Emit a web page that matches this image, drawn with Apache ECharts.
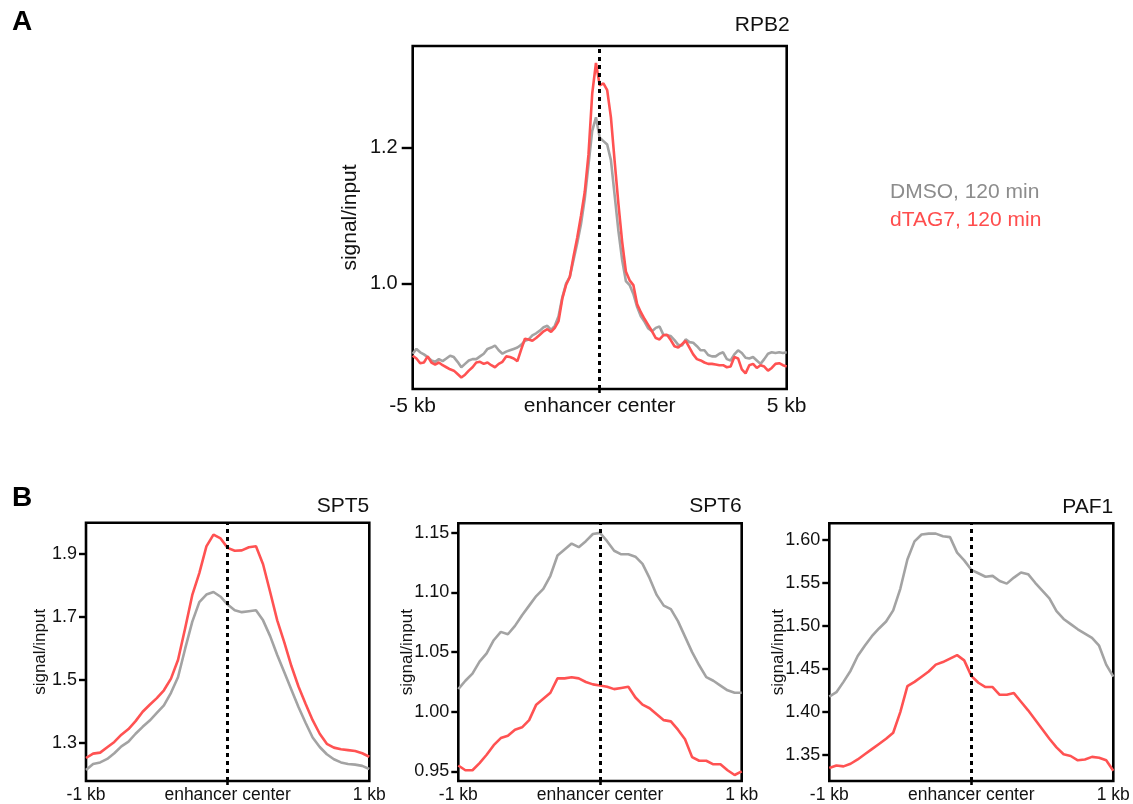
<!DOCTYPE html>
<html>
<head>
<meta charset="utf-8">
<title>Enhancer profiles</title>
<script src="https://cdn.jsdelivr.net/npm/echarts@6/dist/echarts.min.js"></script>
<style>
  html, body { margin: 0; padding: 0; background: #fff; }
  #chart { width: 1133px; height: 804px; }
</style>
</head>
<body>
<div id="chart"></div>
<script>
// ---- Panel A: RPB2, ±5 kb around enhancer center, 0.1 kb bins ----
const rpb2Pos = [];
for (let i = 0; i <= 100; i++) rpb2Pos.push(Math.round((-5 + i * 0.1) * 10) / 10);

const rpb2Dmso = [
  0.897, 0.904, 0.899, 0.896, 0.892, 0.887, 0.885, 0.889, 0.886, 0.890,
  0.894, 0.892, 0.885, 0.877, 0.882, 0.887, 0.889, 0.889, 0.893, 0.897,
  0.904, 0.906, 0.909, 0.902, 0.897, 0.900, 0.902, 0.904, 0.906, 0.910,
  0.916, 0.918, 0.924, 0.927, 0.931, 0.936, 0.938, 0.932, 0.938, 0.952,
  0.980, 1.000, 1.010, 1.035, 1.060, 1.088, 1.125, 1.175, 1.225, 1.245,
  1.215,
  1.210, 1.205, 1.182, 1.130, 1.078, 1.035, 1.004, 0.998, 0.985, 0.966,
  0.952, 0.944, 0.934, 0.930, 0.935, 0.937, 0.925, 0.924, 0.923, 0.917,
  0.910, 0.909, 0.918, 0.914, 0.913, 0.908, 0.902, 0.902, 0.895, 0.893,
  0.893, 0.897, 0.899, 0.889, 0.887, 0.896, 0.902, 0.898, 0.891, 0.890,
  0.892, 0.887, 0.882, 0.889, 0.897, 0.899, 0.898, 0.899, 0.898, 0.899
];
const rpb2Dtag = [
  0.894, 0.890, 0.883, 0.884, 0.893, 0.884, 0.881, 0.884, 0.880, 0.877,
  0.874, 0.872, 0.867, 0.862, 0.866, 0.872, 0.877, 0.884, 0.885, 0.882,
  0.884, 0.880, 0.877, 0.882, 0.885, 0.893, 0.892, 0.890, 0.886, 0.903,
  0.919, 0.918, 0.916, 0.920, 0.925, 0.930, 0.933, 0.929, 0.935, 0.945,
  0.978, 0.998, 1.010, 1.040, 1.068, 1.100, 1.135, 1.190, 1.280, 1.325,
  1.292,
  1.295, 1.285, 1.245, 1.180, 1.118, 1.062, 1.018, 1.005, 0.998, 0.970,
  0.958, 0.948, 0.939, 0.930, 0.920, 0.918, 0.924, 0.925, 0.917, 0.908,
  0.906, 0.911, 0.916, 0.906, 0.896, 0.889, 0.887, 0.884, 0.882, 0.882,
  0.881, 0.880, 0.880, 0.877, 0.878, 0.892, 0.890, 0.874, 0.868, 0.880,
  0.882, 0.876, 0.880, 0.878, 0.872, 0.876, 0.882, 0.883, 0.880, 0.878
];
const rpb2Ticks = [1.0, 1.2];

// ---- Panel B: ±1 kb around enhancer center, 0.05 kb bins ----
const narrowPos = [];
for (let i = 0; i <= 40; i++) narrowPos.push(Math.round((-1 + i * 0.05) * 100) / 100);

const spt5Dmso = [
  1.215, 1.234, 1.239, 1.250, 1.268, 1.290, 1.305, 1.330, 1.352, 1.372,
  1.396, 1.420, 1.460, 1.510, 1.600, 1.685, 1.748, 1.772, 1.780, 1.765,
  1.740,
  1.722, 1.716, 1.719, 1.722, 1.690, 1.640, 1.580, 1.525, 1.470, 1.415,
  1.365, 1.318, 1.288, 1.265, 1.249, 1.239, 1.234, 1.232, 1.228, 1.218
];
const spt5Dtag = [
  1.253, 1.267, 1.270, 1.287, 1.304, 1.327, 1.345, 1.370, 1.400, 1.422,
  1.443, 1.468, 1.505, 1.565, 1.665, 1.770, 1.840, 1.925, 1.962, 1.950,
  1.920,
  1.911, 1.912, 1.922, 1.925, 1.868, 1.780, 1.690, 1.620, 1.545, 1.480,
  1.425, 1.373, 1.330, 1.298, 1.286, 1.281, 1.278, 1.275, 1.268, 1.257
];
const spt5Ticks = [1.3, 1.5, 1.7, 1.9];

const spt6Dmso = [
  1.019, 1.026, 1.032, 1.042, 1.049, 1.060, 1.067, 1.065, 1.072, 1.081,
  1.089, 1.097, 1.103, 1.114, 1.131, 1.136, 1.141, 1.138, 1.143, 1.149,
  1.150,
  1.143, 1.135, 1.132, 1.132, 1.130, 1.124, 1.112, 1.098, 1.089, 1.086,
  1.076, 1.063, 1.050, 1.039, 1.029, 1.026, 1.022, 1.018, 1.016, 1.016
];
const spt6Dtag = [
  0.955, 0.951, 0.951, 0.957, 0.964, 0.972, 0.978, 0.980, 0.985, 0.987,
  0.993, 1.006, 1.011, 1.016, 1.028, 1.028, 1.029, 1.028, 1.025, 1.023,
  1.022,
  1.021, 1.019, 1.020, 1.021, 1.012, 1.006, 1.003, 0.998, 0.993, 0.992,
  0.985, 0.977, 0.962, 0.959, 0.959, 0.956, 0.956, 0.951, 0.947, 0.950
];
const spt6Ticks = [0.95, 1.00, 1.05, 1.10, 1.15];

const paf1Dmso = [
  1.418, 1.423, 1.435, 1.448, 1.465, 1.477, 1.488, 1.497, 1.505, 1.518,
  1.543, 1.577, 1.598, 1.606, 1.607, 1.607, 1.604, 1.603, 1.585, 1.576,
  1.565,
  1.561, 1.557, 1.558, 1.552, 1.549, 1.556, 1.562, 1.560, 1.550, 1.541,
  1.532, 1.517, 1.508, 1.502, 1.496, 1.491, 1.486, 1.477, 1.455, 1.441
];
const paf1Dtag = [
  1.335, 1.338, 1.337, 1.340, 1.345, 1.351, 1.357, 1.363, 1.369, 1.376,
  1.400, 1.430, 1.435, 1.441, 1.447, 1.455, 1.458, 1.462, 1.466, 1.460,
  1.442,
  1.434, 1.429, 1.429, 1.420, 1.420, 1.422, 1.412, 1.402, 1.391, 1.380,
  1.369, 1.359, 1.351, 1.349, 1.344, 1.345, 1.348, 1.347, 1.344, 1.332
];
const paf1Ticks = [1.35, 1.40, 1.45, 1.50, 1.55, 1.60];

const conditions = ['DMSO, 120 min', 'dTAG7, 120 min'];

// ---- styling ----
const FONT = '"Liberation Sans", Arial, Helvetica, sans-serif';
const GRAY = '#a3a3a3';
const RED = '#ff5252';

const pair = (xs, ys) => xs.map((x, i) => [x, ys[i]]);

const panels = [
  { title: 'RPB2', pos: rpb2Pos, dmso: rpb2Dmso, dtag: rpb2Dtag, ticks: rpb2Ticks, dec: 1,
    xr: 5, ymin: 0.845, ymax: 1.35,
    grid: { left: 412.7, top: 46, width: 374, height: 343 },
    tickFont: 20, xFont: 21, nameFont: 21, nameGap: 52, tickLen: 11, yMargin: 15, xMargin: 7, titleY: 25.5 },
  { title: 'SPT5', pos: narrowPos, dmso: spt5Dmso, dtag: spt5Dtag, ticks: spt5Ticks, dec: 1,
    xr: 1, ymin: 1.18, ymax: 2.0,
    grid: { left: 86, top: 522.7, width: 283.3, height: 260.6 },
    tickFont: 18, xFont: 17.5, nameFont: 17, nameGap: 37, tickLen: 7, yMargin: 9, xMargin: 5, titleY: 506.7 },
  { title: 'SPT6', pos: narrowPos, dmso: spt6Dmso, dtag: spt6Dtag, ticks: spt6Ticks, dec: 2,
    xr: 1, ymin: 0.942, ymax: 1.158,
    grid: { left: 458.3, top: 523.3, width: 283.4, height: 259.4 },
    tickFont: 18, xFont: 17.5, nameFont: 17, nameGap: 42, tickLen: 7, yMargin: 9, xMargin: 5, titleY: 506.7 },
  { title: 'PAF1', pos: narrowPos, dmso: paf1Dmso, dtag: paf1Dtag, ticks: paf1Ticks, dec: 2,
    xr: 1, ymin: 1.32, ymax: 1.619,
    grid: { left: 829.3, top: 523.3, width: 284, height: 260 },
    tickFont: 18, xFont: 17.5, nameFont: 17, nameGap: 42, tickLen: 7, yMargin: 9, xMargin: 5, titleY: 507 }
];

const grid = [], xAxis = [], yAxis = [], series = [], graphic = [];

panels.forEach((p, k) => {
  grid.push(Object.assign({ show: true, borderColor: '#000', borderWidth: 2.6,
    backgroundColor: 'transparent', containLabel: false }, p.grid));

  xAxis.push({
    gridIndex: k, type: 'value', min: -p.xr, max: p.xr, interval: p.xr,
    position: 'bottom',
    axisLine: { show: false, onZero: false },
    splitLine: { show: false },
    axisTick: { show: true, customValues: [0], length: 4, lineStyle: { color: '#000', width: 2.6 } },
    axisLabel: {
      showMinLabel: true, showMaxLabel: true, margin: p.xMargin,
      fontFamily: FONT, fontSize: p.xFont, color: '#111',
      formatter: v => (Math.abs(v) < 1e-9 ? 'enhancer center' : v + ' kb')
    }
  });

  yAxis.push({
    gridIndex: k, type: 'value', min: p.ymin, max: p.ymax,
    position: 'left',
    name: 'signal/input', nameLocation: 'middle', nameGap: p.nameGap,
    nameMoveOverlap: false,
    nameTextStyle: { fontFamily: FONT, fontSize: p.nameFont, color: '#111' },
    axisLine: { show: false, onZero: false },
    splitLine: { show: false },
    axisTick: { show: true, customValues: p.ticks, length: p.tickLen, lineStyle: { color: '#000', width: 2.4 } },
    axisLabel: {
      customValues: p.ticks, margin: p.yMargin,
      fontFamily: FONT, fontSize: p.tickFont, color: '#111',
      formatter: v => Number(v).toFixed(p.dec)
    }
  });

  series.push({
    name: conditions[0], type: 'line', xAxisIndex: k, yAxisIndex: k,
    data: pair(p.pos, p.dmso), showSymbol: false, symbol: 'none',
    lineStyle: { color: GRAY, width: 2.6 }, z: 2
  });
  series.push({
    name: conditions[1], type: 'line', xAxisIndex: k, yAxisIndex: k,
    data: pair(p.pos, p.dtag), showSymbol: false, symbol: 'none',
    lineStyle: { color: RED, width: 2.6 }, z: 3,
    markLine: {
      silent: true, symbol: ['none', 'none'], label: { show: false },
      lineStyle: { color: '#000', width: 3, type: [4, 4] },
      data: [{ xAxis: 0 }], z: 5
    }
  });

  graphic.push({
    type: 'text', x: p.grid.left + p.grid.width + (k === 0 ? 3 : 0), y: p.titleY,
    style: { text: p.title, font: '21px ' + FONT, fill: '#111',
             align: 'right', verticalAlign: 'middle' }
  });
});

// panel letters
graphic.push({ type: 'text', x: 12, y: 22, style: { text: 'A', font: 'bold 28px ' + FONT, fill: '#000', verticalAlign: 'middle' } });
graphic.push({ type: 'text', x: 12, y: 498, style: { text: 'B', font: 'bold 28px ' + FONT, fill: '#000', verticalAlign: 'middle' } });

// condition key
graphic.push({ type: 'text', x: 890, y: 192, style: { text: conditions[0], font: '21px ' + FONT, fill: '#8c8c8c', verticalAlign: 'middle' } });
graphic.push({ type: 'text', x: 890, y: 220, style: { text: conditions[1], font: '21px ' + FONT, fill: '#ff4d4d', verticalAlign: 'middle' } });

const chart = echarts.init(document.getElementById('chart'), null, { renderer: 'canvas' });
chart.setOption({
  backgroundColor: '#fff',
  animation: false,
  grid, xAxis, yAxis, series, graphic
});
</script>
</body>
</html>
